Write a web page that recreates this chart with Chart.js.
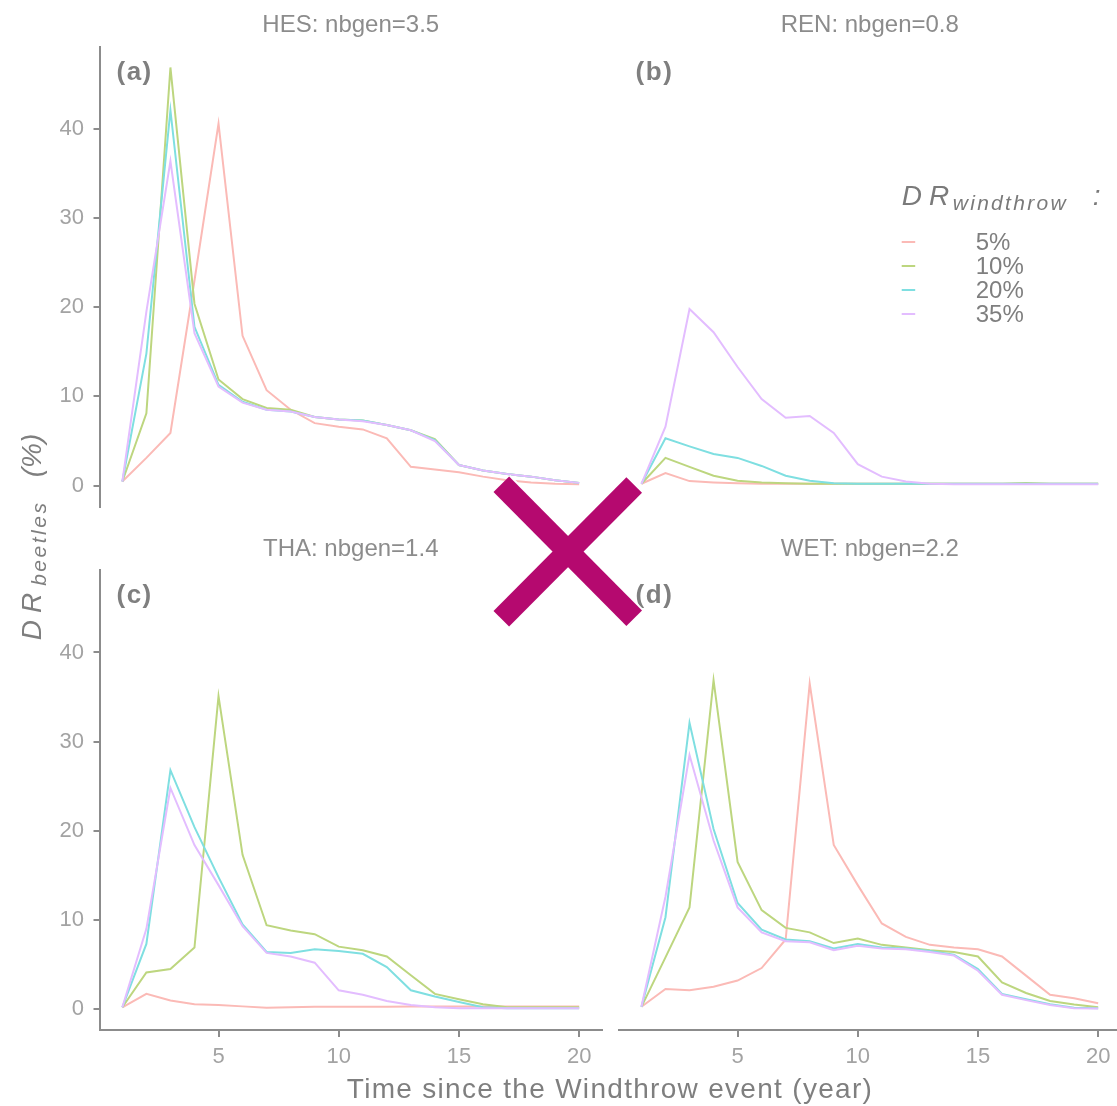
<!DOCTYPE html>
<html>
<head>
<meta charset="utf-8">
<title>Windthrow damage</title>
<script src="https://cdn.jsdelivr.net/npm/chart.js@4.4.0/dist/chart.umd.min.js"></script>
<style>
  html, body { margin: 0; padding: 0; background: #fff; width: 1117px; height: 1106px; overflow: hidden; }
  canvas { position: absolute; }
  .axis-title { position: absolute; font-family: 'Liberation Sans', Arial, sans-serif; color: #7f7f7f; white-space: nowrap; }
  #y-title { left: -88px; top: 517px; width: 240px; height: 40px; line-height: 40px; text-align: center; transform: rotate(-90deg); font-style: italic; }
  #y-title .main { font-size: 28px; }
  #y-title .dr { letter-spacing: 7px; }
  #y-title sub { font-size: 21px; letter-spacing: 2.5px; vertical-align: -5px; line-height: 0; }
  #x-title { left: 0; width: 1220px; top: 1072px; text-align: center; font-size: 28px; letter-spacing: 1.3px; line-height: 34px; }
</style>
</head>
<body>
<canvas id="hes-chart" style="left:0;top:0" width="610" height="520"></canvas>
<canvas id="ren-chart" style="left:610px;top:0" width="520" height="520"></canvas>
<canvas id="tha-chart" style="left:0;top:520px" width="610" height="560"></canvas>
<canvas id="wet-chart" style="left:610px;top:520px" width="520" height="560"></canvas>
<canvas id="cross" style="left:0;top:0;pointer-events:none" width="1117" height="1106"></canvas>
<div id="y-title" class="axis-title"><span class="main dr">DR</span><sub>beetles</sub><span class="main">&nbsp;&nbsp;&nbsp;(%)</span></div>
<div id="x-title" class="axis-title">Time since the Windthrow event (year)</div>
<script>
// years after the storm
const years = [1, 2, 3, 4, 5, 6, 7, 8, 9, 10, 11, 12, 13, 14, 15, 16, 17, 18, 19, 20];
const windthrowLevels = ['5%', '10%', '20%', '35%'];
const xTicks = [5, 10, 15, 20];
const yTicks = [0, 10, 20, 30, 40];

// HES: nbgen=3.5
const hes5 = [0.45, 3.1, 5.9, 23.0, 40.6, 16.8, 10.7, 8.5, 7.0, 6.6, 6.3, 5.3, 2.1, 1.8, 1.5, 1.0, 0.6, 0.35, 0.2, 0.15];
const hes10 = [0.45, 8.1, 46.9, 20.4, 11.9, 9.7, 8.7, 8.5, 7.7, 7.4, 7.3, 6.8, 6.2, 5.2, 2.3, 1.7, 1.3, 1.0, 0.6, 0.3];
const hes20 = [0.45, 14.8, 42.1, 17.8, 11.3, 9.4, 8.5, 8.3, 7.7, 7.4, 7.3, 6.8, 6.2, 5.1, 2.3, 1.7, 1.3, 1.0, 0.6, 0.3];
const hes35 = [0.45, 19.5, 36.4, 17.1, 11.1, 9.3, 8.5, 8.3, 7.7, 7.4, 7.2, 6.8, 6.2, 5.0, 2.3, 1.7, 1.3, 1.0, 0.6, 0.3];

// REN: nbgen=0.8
const ren5 = [0.2, 1.4, 0.5, 0.35, 0.25, 0.2, 0.2, 0.2, 0.2, 0.2, 0.2, 0.2, 0.2, 0.2, 0.2, 0.2, 0.2, 0.2, 0.2, 0.2];
const ren10 = [0.2, 3.1, 2.1, 1.1, 0.55, 0.35, 0.25, 0.2, 0.2, 0.2, 0.2, 0.2, 0.2, 0.2, 0.2, 0.2, 0.3, 0.2, 0.2, 0.2];
const ren20 = [0.2, 5.3, 4.4, 3.55, 3.1, 2.2, 1.1, 0.55, 0.25, 0.2, 0.2, 0.2, 0.2, 0.2, 0.2, 0.2, 0.2, 0.2, 0.2, 0.2];
const ren35 = [0.2, 6.6, 19.8, 17.2, 13.3, 9.7, 7.6, 7.8, 5.9, 2.4, 1.0, 0.45, 0.2, 0.15, 0.15, 0.15, 0.15, 0.15, 0.15, 0.15];

// THA: nbgen=1.4
const tha5 = [0.2, 1.7, 0.95, 0.55, 0.45, 0.3, 0.15, 0.2, 0.25, 0.25, 0.25, 0.25, 0.3, 0.3, 0.3, 0.3, 0.3, 0.3, 0.3, 0.3];
const tha10 = [0.2, 4.1, 4.5, 6.9, 35.1, 17.3, 9.4, 8.8, 8.4, 7.0, 6.6, 5.9, 3.8, 1.7, 1.1, 0.55, 0.2, 0.2, 0.2, 0.2];
const tha20 = [0.2, 7.3, 26.8, 20.4, 14.8, 9.5, 6.4, 6.3, 6.7, 6.5, 6.2, 4.7, 2.1, 1.4, 0.8, 0.2, 0.1, 0.1, 0.1, 0.1];
const tha35 = [0.2, 9.0, 24.8, 18.4, 13.9, 9.3, 6.3, 5.9, 5.2, 2.1, 1.6, 0.9, 0.45, 0.2, 0.1, 0.1, 0.1, 0.1, 0.1, 0.1];

// WET: nbgen=2.2
const wet5 = [0.25, 2.25, 2.1, 2.5, 3.2, 4.6, 7.8, 36.5, 18.4, 13.9, 9.6, 8.1, 7.2, 6.9, 6.7, 5.9, 3.75, 1.6, 1.2, 0.65];
const wet10 = [0.25, 5.8, 11.4, 36.9, 16.5, 11.1, 9.1, 8.6, 7.4, 7.9, 7.2, 6.9, 6.6, 6.4, 5.9, 3.0, 1.8, 0.9, 0.5, 0.2];
const wet20 = [0.25, 10.3, 32.1, 20.2, 11.9, 8.9, 7.8, 7.6, 6.8, 7.3, 6.9, 6.8, 6.5, 6.1, 4.5, 1.7, 1.1, 0.55, 0.15, 0.1];
const wet35 = [0.25, 12.6, 28.5, 18.9, 11.4, 8.6, 7.6, 7.5, 6.6, 7.1, 6.8, 6.7, 6.4, 6.0, 4.3, 1.6, 1.0, 0.45, 0.1, 0.05];

(() => {
    const fontFamily = "'Liberation Sans', Arial, sans-serif";
    Chart.defaults.font.family = fontFamily;

    // ggplot hue palette, washed out towards white
    const lineColors = [
        'rgb(251, 186, 182)',
        'rgb(189, 214, 127)',
        'rgb(127, 223, 225)',
        'rgb(227, 189, 255)'
    ];
    const axisGrey = '#8c8c8c';

    const makeDatasets = function (series) {
        return series.map((values, i) => ({
            label: windthrowLevels[i],
            data: values.map((v, k) => ({ x: years[k], y: v })),
            borderColor: lineColors[i],
            backgroundColor: lineColors[i],
            borderWidth: 2,
            pointRadius: 0,
            tension: 0,
            fill: false,
            order: series.length - 1 - i   // 35% on top
        }));
    };

    // strip title above the panel and the (a)...(d) tag inside it
    const facetDecor = {
        id: 'facetDecor',
        afterDraw(chart, args, opts) {
            const { ctx, chartArea } = chart;
            ctx.save();
            ctx.fillStyle = '#8c8c8c';
            ctx.font = '24px ' + fontFamily;
            ctx.textAlign = 'center';
            ctx.textBaseline = 'alphabetic';
            ctx.fillText(opts.strip, (chartArea.left + chartArea.right) / 2, chartArea.top - 14.5);
            ctx.fillStyle = '#7f7f7f';
            ctx.font = 'bold 26px ' + fontFamily;
            ctx.letterSpacing = '1.5px';
            ctx.textAlign = 'left';
            ctx.textBaseline = 'middle';
            ctx.fillText(opts.tag, chartArea.left + 17, chartArea.top + 26);
            ctx.restore();
        }
    };

    // legend drawn inside the REN panel
    const windLegend = {
        id: 'windLegend',
        afterDraw(chart, args, opts) {
            if (!opts.show) return;
            const { ctx } = chart;
            const x0 = opts.x, y0 = opts.y;
            ctx.save();
            ctx.fillStyle = '#7a7a7a';
            ctx.textAlign = 'left';
            ctx.textBaseline = 'alphabetic';
            ctx.font = 'italic 28px ' + fontFamily;
            ctx.letterSpacing = '7px';
            ctx.fillText('DR', x0, y0);
            ctx.font = 'italic 21px ' + fontFamily;
            ctx.letterSpacing = '2.3px';
            ctx.fillText('windthrow', x0 + 51, y0 + 5);
            ctx.font = 'italic 28px ' + fontFamily;
            ctx.letterSpacing = '0px';
            ctx.fillText(':', x0 + 191, y0);

            ctx.font = '24px ' + fontFamily;
            ctx.textBaseline = 'middle';
            chart.data.datasets.forEach((ds, i) => {
                const y = y0 + 37 + i * 24;
                ctx.strokeStyle = ds.borderColor;
                ctx.lineWidth = 2;
                ctx.beginPath();
                ctx.moveTo(x0, y);
                ctx.lineTo(x0 + 13.5, y);
                ctx.stroke();
                ctx.fillStyle = '#7f7f7f';
                ctx.fillText(ds.label, x0 + 74, y + 1);
            });
            ctx.restore();
        }
    };

    const makeConfig = function (series, opts) {
        return {
            type: 'line',
            data: { datasets: makeDatasets(series) },
            options: {
                responsive: false,
                animation: false,
                events: [],
                layout: { padding: opts.padding },
                plugins: {
                    legend: { display: false },
                    tooltip: { enabled: false },
                    facetDecor: { strip: opts.strip, tag: opts.tag },
                    windLegend: { show: !!opts.legend, x: 291.7, y: 205 }
                },
                scales: {
                    x: {
                        type: 'linear',
                        min: 0.05,
                        max: 20.95,
                        display: opts.showX,
                        afterBuildTicks: (axis) => { axis.ticks = xTicks.map(v => ({ value: v })); },
                        afterFit: (axis) => {
                            axis.height = opts.showX ? 50 : 0;
                            axis.paddingLeft = 0;
                            axis.paddingRight = 0;
                        },
                        grid: { drawOnChartArea: false, drawTicks: true, tickLength: 7, color: axisGrey, lineWidth: 2 },
                        border: { display: true, color: axisGrey, width: 2 },
                        ticks: { color: '#a3a3a3', font: { size: 22 }, padding: 7, maxRotation: 0 }
                    },
                    y: {
                        type: 'linear',
                        min: -2.35,
                        max: 49.25,
                        display: opts.showY,
                        afterBuildTicks: (axis) => { axis.ticks = yTicks.map(v => ({ value: v })); },
                        afterFit: (axis) => {
                            axis.width = opts.showY ? 99.5 : 0;
                            // tick labels sit well inside the range, no extra room needed
                            axis.paddingTop = 0;
                            axis.paddingBottom = 0;
                        },
                        grid: { drawOnChartArea: false, drawTicks: true, tickLength: 6, color: axisGrey, lineWidth: 2 },
                        border: { display: true, color: axisGrey, width: 2 },
                        ticks: { color: '#a3a3a3', font: { size: 22 }, padding: 9.5 }
                    }
                }
            },
            plugins: [facetDecor, windLegend]
        };
    };

    const hesChart = new Chart(document.getElementById('hes-chart').getContext('2d'), makeConfig(
        [hes5, hes10, hes20, hes35],
        { strip: 'HES: nbgen=3.5', tag: '(a)', showX: false, showY: true,
          padding: { left: 0, top: 46.5, right: 8, bottom: 13.5 } }));

    const renChart = new Chart(document.getElementById('ren-chart').getContext('2d'), makeConfig(
        [ren5, ren10, ren20, ren35],
        { strip: 'REN: nbgen=0.8', tag: '(b)', showX: false, showY: false, legend: true,
          padding: { left: 8.6, top: 46.5, right: 9, bottom: 13.5 } }));

    const thaChart = new Chart(document.getElementById('tha-chart').getContext('2d'), makeConfig(
        [tha5, tha10, tha20, tha35],
        { strip: 'THA: nbgen=1.4', tag: '(c)', showX: true, showY: true,
          padding: { left: 0, top: 50, right: 8, bottom: 0 } }));

    const wetChart = new Chart(document.getElementById('wet-chart').getContext('2d'), makeConfig(
        [wet5, wet10, wet20, wet35],
        { strip: 'WET: nbgen=2.2', tag: '(d)', showX: true, showY: false,
          padding: { left: 8.6, top: 50, right: 9, bottom: 0 } }));

    // magenta cross laid over the middle of the figure
    const cx = document.getElementById('cross').getContext('2d');
    const arms = [[501.3, 484.2, 634.2, 618.3], [634.2, 485, 501.3, 618.7]];
    cx.lineCap = 'butt';
    [['#ffffff', 26], ['#b5096f', 22]].forEach(([color, width]) => {
        cx.strokeStyle = color;
        cx.lineWidth = width;
        arms.forEach(([x1, y1, x2, y2]) => {
            cx.beginPath();
            cx.moveTo(x1, y1);
            cx.lineTo(x2, y2);
            cx.stroke();
        });
    });
})();
</script>
</body>
</html>
